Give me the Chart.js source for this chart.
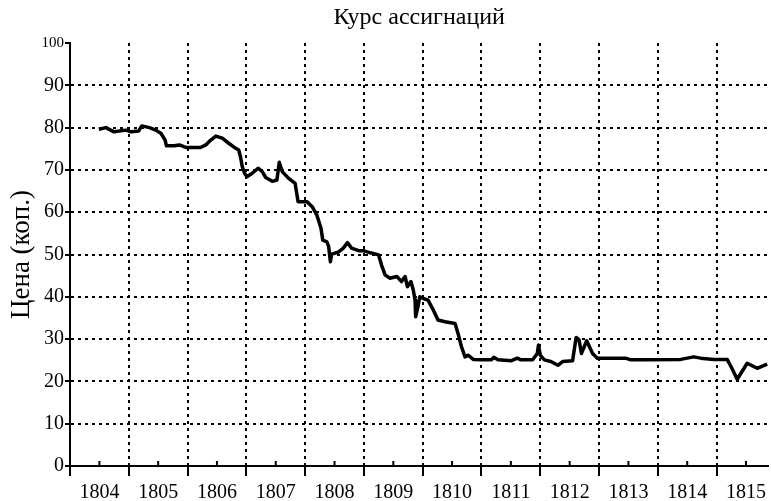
<!DOCTYPE html>
<html>
<head>
<meta charset="utf-8">
<script src="https://cdn.jsdelivr.net/npm/chart.js@4.4.1/dist/chart.umd.min.js"></script>
<style>
  html, body { margin: 0; padding: 0; background: #fff; }
  #wrap { width: 771px; height: 501px; }
</style>
</head>
<body>
<div id="wrap"><canvas id="rateChart"></canvas></div>
<script>
// year labels on the x axis, y ticks
const years = [1804, 1805, 1806, 1807, 1808, 1809, 1810, 1811, 1812, 1813, 1814, 1815];
const yTicks = [0, 10, 20, 30, 40, 50, 60, 70, 80, 90, 100];
const chartTitle = 'Курс ассигнаций';

// time (fractional years) and price in kopecks
const dates = [
  1804.49, 1804.61, 1804.75, 1804.95, 1805.04, 1805.17, 1805.22, 1805.35, 1805.46, 1805.55,
  1805.62, 1805.64, 1805.77, 1805.86, 1805.97, 1806.22, 1806.31, 1806.39, 1806.48, 1806.59,
  1806.70, 1806.82, 1806.87, 1806.90, 1806.93, 1806.97, 1807.01, 1807.10, 1807.20, 1807.27,
  1807.33, 1807.44, 1807.52, 1807.56, 1807.61, 1807.72, 1807.83, 1807.88, 1808.03, 1808.12,
  1808.20, 1808.27, 1808.30, 1808.37, 1808.40, 1808.43, 1808.45, 1808.57, 1808.65, 1808.72,
  1808.79, 1808.91, 1808.99, 1809.11, 1809.25, 1809.30, 1809.36, 1809.44, 1809.56, 1809.64,
  1809.70, 1809.74, 1809.80, 1809.84, 1809.87, 1809.88, 1809.92, 1809.95, 1810.01, 1810.09,
  1810.18, 1810.26, 1810.38, 1810.55, 1810.60, 1810.66, 1810.72, 1810.77, 1810.86, 1811.00,
  1811.17, 1811.21, 1811.28, 1811.51, 1811.61, 1811.67, 1811.87, 1811.95, 1811.97, 1812.00,
  1812.07, 1812.18, 1812.30, 1812.38, 1812.55, 1812.61, 1812.66, 1812.70, 1812.79, 1812.89,
  1812.97, 1813.26, 1813.45, 1813.54, 1813.82, 1814.39, 1814.61, 1814.73, 1814.95, 1815.18,
  1815.26, 1815.35, 1815.52, 1815.69, 1815.86
];
const rates = [
  79.6, 80.0, 79.0, 79.4, 79.0, 79.2, 80.4, 80.0, 79.4, 78.6,
  77.0, 75.7, 75.7, 75.9, 75.3, 75.3, 75.9, 77.0, 78.0, 77.5,
  76.3, 75.1, 74.7, 73.1, 70.8, 69.2, 68.4, 69.2, 70.4, 69.6,
  68.2, 67.3, 67.6, 71.8, 69.6, 68.0, 66.8, 62.5, 62.5, 61.3,
  59.3, 56.2, 53.4, 53.0, 51.9, 48.3, 50.1, 50.6, 51.5, 52.8,
  51.5, 50.9, 50.9, 50.4, 49.9, 47.5, 45.2, 44.4, 44.8, 43.6,
  44.8, 42.4, 43.6, 41.6, 39.2, 35.3, 37.7, 40.0, 39.6, 39.2,
  36.9, 34.5, 34.1, 33.7, 31.4, 28.2, 25.8, 26.2, 25.2, 25.1,
  25.1, 25.7, 25.1, 24.9, 25.5, 25.1, 25.1, 26.6, 28.6, 26.2,
  25.1, 24.7, 23.8, 24.7, 24.9, 30.4, 29.8, 26.6, 29.6, 26.6,
  25.5, 25.5, 25.5, 25.1, 25.1, 25.2, 25.8, 25.5, 25.2, 25.2,
  23.1, 20.5, 24.3, 23.1, 24.1
];

const serif = '"Liberation Serif", "DejaVu Serif", serif';

// small upward ticks in the middle of each year
const minorTicks = {
  id: 'minorTicks',
  afterDraw(chart) {
    const xs = chart.scales.x;
    const c = chart.ctx;
    c.save();
    c.strokeStyle = '#000';
    c.lineWidth = 2;
    xs.ticks.forEach(t => {
      const px = xs.getPixelForValue(t.value);
      c.beginPath();
      c.moveTo(px, xs.top);
      c.lineTo(px, xs.top - 5);
      c.stroke();
    });
    c.restore();
  }
};

// title centred over the plot area rather than the whole canvas
const plotTitle = {
  id: 'plotTitle',
  afterDraw(chart) {
    const a = chart.chartArea;
    const c = chart.ctx;
    c.save();
    c.fillStyle = '#000';
    c.font = '24px ' + serif;
    c.textAlign = 'center';
    c.textBaseline = 'middle';
    c.fillText(chartTitle, (a.left + a.right) / 2, 18);
    c.restore();
  }
};

const ctx = document.getElementById('rateChart').getContext('2d');

new Chart(ctx, {
  type: 'line',
  data: {
    datasets: [{
      data: dates.map((d, i) => ({ x: d, y: rates[i] })),
      borderColor: '#000',
      borderWidth: 3.5,
      borderJoinStyle: 'round',
      pointRadius: 0,
      tension: 0,
      fill: false
    }]
  },
  plugins: [minorTicks, plotTitle],
  options: {
    responsive: true,
    maintainAspectRatio: false,
    animation: false,
    layout: { padding: { top: 43, left: 0, right: 0, bottom: 0 } },
    plugins: {
      legend: { display: false },
      tooltip: { enabled: false },
      title: { display: false }
    },
    scales: {
      x: {
        type: 'linear',
        min: 1804,
        max: 1815.88,
        afterBuildTicks: s => { s.ticks = years.map(y => ({ value: y + 0.5 })); },
        afterFit: s => { s.height = 35; },
        ticks: {
          autoSkip: false,
          maxRotation: 0,
          padding: 5,
          color: '#000',
          font: { family: serif, size: 20 },
          callback: (v, i) => years[i]
        },
        grid: {
          offset: true,
          color: c => (c.index === 0 ? 'transparent' : '#000'),
          lineWidth: 2,
          tickColor: '#000',
          tickLength: 10,
          tickWidth: 2,
          tickBorderDash: []
        },
        border: { color: '#000', width: 2, dash: [3, 4] }
      },
      y: {
        min: 0,
        max: 100,
        afterBuildTicks: s => { s.ticks = yTicks.map(v => ({ value: v })); },
        afterFit: s => { s.width = 70; },
        ticks: {
          padding: 1,
          color: '#000',
          font: c => ({ family: serif, size: c.tick && c.tick.value === 100 ? 15 : 20 })
        },
        grid: {
          color: c => (c.tick && (c.tick.value === 0 || c.tick.value === 100) ? 'transparent' : '#000'),
          lineWidth: 2,
          tickColor: '#000',
          tickLength: 5,
          tickWidth: 2,
          tickBorderDash: []
        },
        border: { color: '#000', width: 2, dash: [3, 4] },
        title: {
          display: true,
          text: 'Цена (коп.)',
          color: '#000',
          font: { family: serif, size: 27 },
          padding: { top: 6, bottom: 0 }
        }
      }
    }
  }
});
</script>
</body>
</html>
